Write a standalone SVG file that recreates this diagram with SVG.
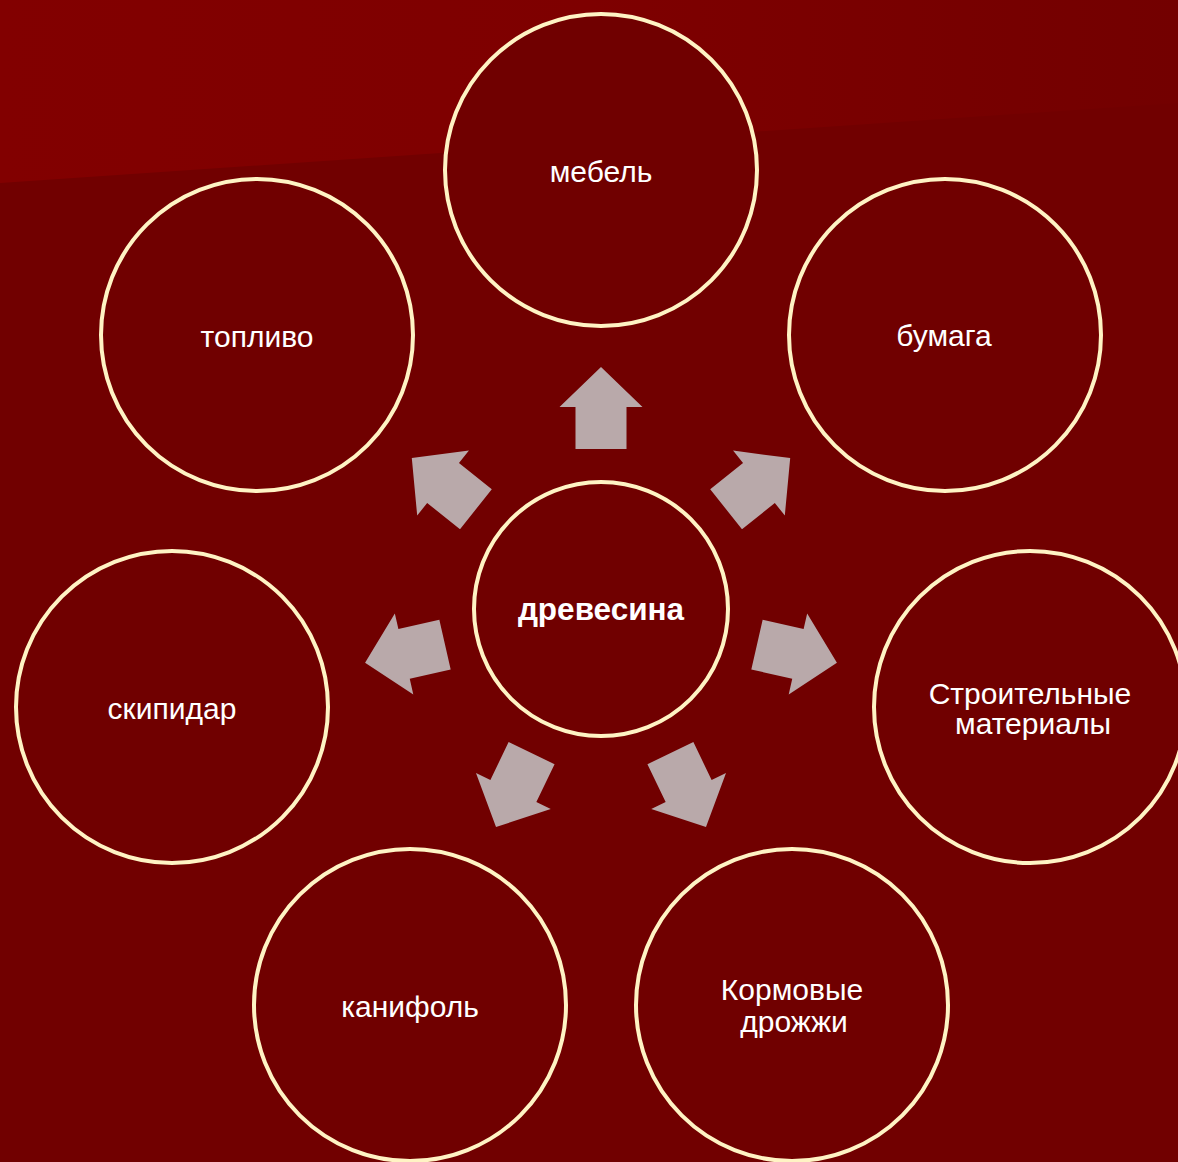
<svg xmlns="http://www.w3.org/2000/svg" width="1178" height="1162" viewBox="0 0 1178 1162">
<defs>
<linearGradient id="bgTop" x1="0" y1="0" x2="1" y2="0">
<stop offset="0" stop-color="#820000"/>
<stop offset="0.5" stop-color="#7e0000"/>
<stop offset="1" stop-color="#730000"/>
</linearGradient>
<polygon id="arrow" points="0,-242 41.5,-202 25.5,-202 25.5,-160 -25.5,-160 -25.5,-202 -41.5,-202"/>
</defs>
<style>
.node circle{fill:#700000;stroke:#fff3c4;stroke-width:4}
.node text{fill:#ffffff;font-family:"Liberation Sans",Arial,sans-serif;font-size:30px;text-anchor:middle}
.center text{font-weight:bold;font-size:31.5px}
.conn use{fill:#b9a9aa}
</style>
<rect x="0" y="0" width="1178" height="1162" fill="#710000"/>
<polygon points="0,0 1178,0 1178,103 0,183" fill="url(#bgTop)"/>
<g id="connectors" class="conn">
<use href="#arrow" transform="translate(601,609)"/>
<use href="#arrow" transform="translate(601,609) rotate(51.43)"/>
<use href="#arrow" transform="translate(601,609) rotate(102.86)"/>
<use href="#arrow" transform="translate(601,609) rotate(154.29)"/>
<use href="#arrow" transform="translate(601,609) rotate(205.71)"/>
<use href="#arrow" transform="translate(601,609) rotate(257.14)"/>
<use href="#arrow" transform="translate(601,609) rotate(308.57)"/>
</g>
<g id="node-mebel" class="node"><circle cx="601" cy="170" r="156"/><text x="601" y="182">мебель</text></g>
<g id="node-bumaga" class="node"><circle cx="945" cy="335" r="156"/><text x="944" y="346">бумага</text></g>
<g id="node-stroit" class="node"><circle cx="1030" cy="707" r="156"/><text x="1030" y="704">Строительные</text><text x="1033" y="734">материалы</text></g>
<g id="node-korm" class="node"><circle cx="792" cy="1005" r="156"/><text x="792" y="1000">Кормовые</text><text x="794" y="1032">дрожжи</text></g>
<g id="node-kanifol" class="node"><circle cx="410" cy="1005" r="156"/><text x="410" y="1017">канифоль</text></g>
<g id="node-skipidar" class="node"><circle cx="172" cy="707" r="156"/><text x="172" y="719">скипидар</text></g>
<g id="node-toplivo" class="node"><circle cx="257" cy="335" r="156"/><text x="257" y="347">топливо</text></g>
<g id="node-drevesina" class="node center"><circle cx="601" cy="609" r="127"/><text x="601" y="620">древесина</text></g>
</svg>
